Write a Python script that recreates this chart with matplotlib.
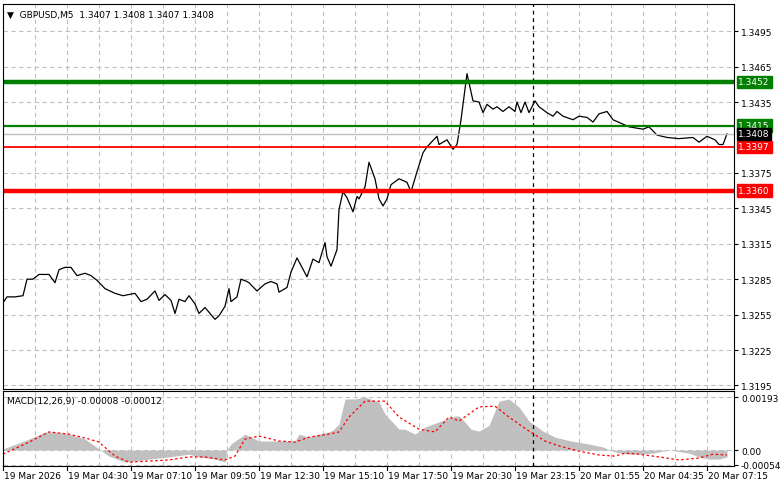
import matplotlib
matplotlib.use("Agg")
import matplotlib.pyplot as plt
import matplotlib.transforms as mtransforms
import numpy as np

# ---- data ----
bars = [0, 2, 6, 10, 12, 15, 18, 23, 26, 28,
        31, 34, 37, 41, 44, 47, 51, 56, 60, 63,
        66, 69, 72, 76, 78, 81, 84, 86, 88, 91,
        93, 96, 98, 101, 103, 106, 108, 111, 113, 114,
        117, 119, 122,
        123, 127, 131, 134, 137, 138, 142, 144, 147, 152,
        155, 158, 161, 162, 164, 167, 168, 170, 172, 175,
        177, 178, 181, 183, 186, 188, 190, 192, 194, 198,
        202, 204, 207, 210, 212, 217, 218, 222, 225, 227,
        229, 231, 232, 235, 238, 240, 242, 245, 247, 250,
        253, 256, 257, 259, 261, 263, 266, 268, 272, 275,
        277, 280, 285, 288, 292, 295, 298, 302, 305, 313,
        320, 323, 327, 332, 338, 345, 348, 352, 356, 358,
        360, 362]
closes = [1.3265, 1.3270, 1.3270, 1.3271, 1.3285, 1.3285, 1.3289, 1.3289, 1.3282, 1.3293,
          1.3295, 1.3295, 1.3288, 1.3290, 1.3288, 1.3284, 1.3277, 1.3273, 1.3271, 1.3272,
          1.3273, 1.3266, 1.3268, 1.3275, 1.3267, 1.3272, 1.3267, 1.3256, 1.3268, 1.3266,
          1.3271, 1.3264, 1.3256, 1.3261, 1.3257, 1.3251, 1.3254, 1.3262, 1.3277, 1.3266,
          1.3270, 1.3285, 1.3283,
          1.3282, 1.3275, 1.3281, 1.3283, 1.3281, 1.3274, 1.3278, 1.3291, 1.3303, 1.3287,
          1.3302, 1.3299, 1.3316, 1.3304, 1.3296, 1.3310, 1.3344, 1.3359, 1.3354, 1.3342,
          1.3355, 1.3353, 1.3363, 1.3384, 1.3370, 1.3353, 1.3347, 1.3353, 1.3365, 1.3370,
          1.3367, 1.3359, 1.3376, 1.3392, 1.3397, 1.3406, 1.3399, 1.3403, 1.3395, 1.3399,
          1.3420, 1.3446, 1.3459, 1.3436, 1.3435, 1.3426, 1.3433, 1.3429, 1.3431, 1.3427,
          1.3431, 1.3427, 1.3435, 1.3426, 1.3435, 1.3426, 1.3436, 1.3431, 1.3426, 1.3423,
          1.3427, 1.3423, 1.3420, 1.3423, 1.3422, 1.3418, 1.3425, 1.3427, 1.3420, 1.3414,
          1.3412, 1.3414, 1.3407, 1.3405, 1.3404, 1.3405, 1.3401, 1.3406, 1.3403, 1.3399,
          1.3399, 1.3408]

macd_bars = [0, 4, 13, 21, 26, 33, 41, 48, 53, 61, 66, 73, 83, 93, 98, 106, 111, 112, 114, 121, 123, 128, 138, 146, 148, 153, 158, 163, 165, 168, 171, 176, 181, 188, 191, 198, 201, 206, 211, 226, 228, 231, 234, 238, 243, 248, 253, 258, 263, 270, 276, 284, 293, 300, 306, 313, 318, 325, 333, 343, 348, 353, 358, 362]
macd_hist = [0.00004, 0.00015, 0.00040, 0.00066, 0.00066, 0.00058, 0.00040, 0.00004, -0.00022, -0.00044, -0.00040, -0.00033, -0.00025, -0.00015, -0.00025, -0.00033, -0.00044, 0.00000, 0.00022, 0.00058, 0.00051, 0.00033, 0.00033, 0.00033, 0.00058, 0.00047, 0.00058, 0.00066, 0.00073, 0.00095, 0.00186, 0.00186, 0.00193, 0.00175, 0.00131, 0.00076,
             0.00076, 0.00058, 0.00084, 0.00124, 0.00124, 0.00102, 0.00076, 0.00069, 0.00090, 0.00178, 0.00186, 0.00157, 0.00106, 0.00069, 0.00047, 0.00033, 0.00022, 0.00011, -0.00007, -0.00015, -0.00015, -0.00011, 0.00000, -0.00011, -0.00025, -0.00033, -0.00033, -0.00025]
sig_bars = [0, 13, 23, 33, 43, 48, 56, 63, 73, 83, 93, 101, 111, 116, 121, 128, 138, 146, 153, 163, 168, 173, 181, 186, 191, 198, 208, 216, 223, 228, 233, 238, 246, 253, 263, 271, 278, 288, 298, 306, 311, 318, 328, 338, 348, 355, 362]
sig_vals = [-0.00015, 0.00029, 0.00066, 0.00058, 0.00040, 0.00029, -0.00022, -0.00044, -0.00040, -0.00036, -0.00025, -0.00025, -0.00036, -0.00022, 0.00040, 0.00051, 0.00033, 0.00029, 0.00047, 0.00058, 0.00066, 0.00120, 0.00178, 0.00178, 0.00178, 0.00120, 0.00076, 0.00066, 0.00120, 0.00106, 0.00131, 0.00157, 0.00160, 0.00120, 0.00069, 0.00033, 0.00015, -0.00004, -0.00018, -0.00022, -0.00011,
            -0.00015, -0.00025, -0.00036, -0.00029, -0.00015, -0.00018]

time_labels = ["19 Mar 2026", "19 Mar 04:30", "19 Mar 07:10", "19 Mar 09:50", "19 Mar 12:30", "19 Mar 15:10",
               "19 Mar 17:50", "19 Mar 20:30", "19 Mar 23:15", "20 Mar 01:55", "20 Mar 04:35", "20 Mar 07:15"]
price_ticks = [1.3195, 1.3225, 1.3255, 1.3285, 1.3315, 1.3345, 1.3375, 1.3435, 1.3465, 1.3495]
levels = [(1.3452, "#007f00", 3.2), (1.3415, "#007f00", 1.6), (1.3397, "#ff0000", 1.3), (1.3360, "#ff0000", 3.2)]
current_price = 1.3408
cursor_bar = 265

FS = 6.5
plt.rcParams['font.family'] = ['DejaVu Sans']
fig = plt.figure(figsize=(7.81, 4.89), dpi=100)
W, H = 781, 489
ax = fig.add_axes([3 / W, 1 - 390 / H, 731 / W, 385 / H])
ax2 = fig.add_axes([3 / W, 1 - 467 / H, 731 / W, 75 / H])

for a in (ax, ax2):
    a.set_xlim(0, 365.5)
    a.set_xticks(np.arange(16, 366, 16))
    a.tick_params(axis='x', length=0, labelbottom=False)
    a.grid(True, axis='both', color='#c0c0c0', linestyle=(0, (4, 3)), linewidth=0.8)
    a.set_axisbelow(True)
    a.yaxis.tick_right()
    a.tick_params(axis='y', labelsize=FS, length=3, pad=2, direction='out')
    for s in a.spines.values():
        s.set_color('black')
    a.axvline(cursor_bar, color='black', linestyle=(0, (3, 3)), linewidth=0.9)

ax.set_ylim(1.3192, 1.3518)
ax.set_yticks(price_ticks)
ax.set_yticklabels([f"{v:.4f}" for v in price_ticks])
ax.plot(bars, closes, color='black', linewidth=0.9)
ax.axhline(current_price, color='#c0c0c0', linewidth=1.0)
trans = mtransforms.blended_transform_factory(ax.transAxes, ax.transData)
for lv, col, lw in levels:
    ax.axhline(lv, color=col, linewidth=lw)
    ax.text(1.006, lv, f"{lv:.4f}", transform=trans, color='white', fontsize=FS, va='center', ha='left',
            bbox=dict(boxstyle='square,pad=0.2', fc=col, ec=col))
ax.text(1.006, current_price, f"{current_price:.4f}", transform=trans, color='white', fontsize=FS, va='center', ha='left',
        bbox=dict(boxstyle='square,pad=0.15', fc='black', ec='black'))
ax.text(0.005, 0.985, "\u25bc  GBPUSD,M5  1.3407 1.3408 1.3407 1.3408", transform=ax.transAxes, fontsize=FS, va='top', ha='left')

ax2.set_ylim(-0.00058, 0.00215)
ax2.set_yticks([-0.00054, 0.0, 0.00193])
ax2.set_yticklabels(["-0.00054", "0.00", "0.00193"])
ax2.fill_between(macd_bars, macd_hist, 0, color='#c0c0c0', linewidth=0)
ax2.plot(sig_bars, sig_vals, color='red', linestyle=(0, (2, 2)), linewidth=0.9)
ax2.text(0.005, 0.93, "MACD(12,26,9) -0.00008 -0.00012", transform=ax2.transAxes, fontsize=FS, va='top', ha='left')

xt = mtransforms.blended_transform_factory(ax2.transData, ax2.transAxes)
for i, lab in enumerate(time_labels):
    x = i * 32
    ax2.text(x + 0.5, -0.07, lab, transform=xt, fontsize=FS, va='top', ha='left')
    ax2.plot([x, x], [0, -0.05], transform=xt, color='black', linewidth=0.8, clip_on=False)

fig.savefig("out.png", dpi=100)
